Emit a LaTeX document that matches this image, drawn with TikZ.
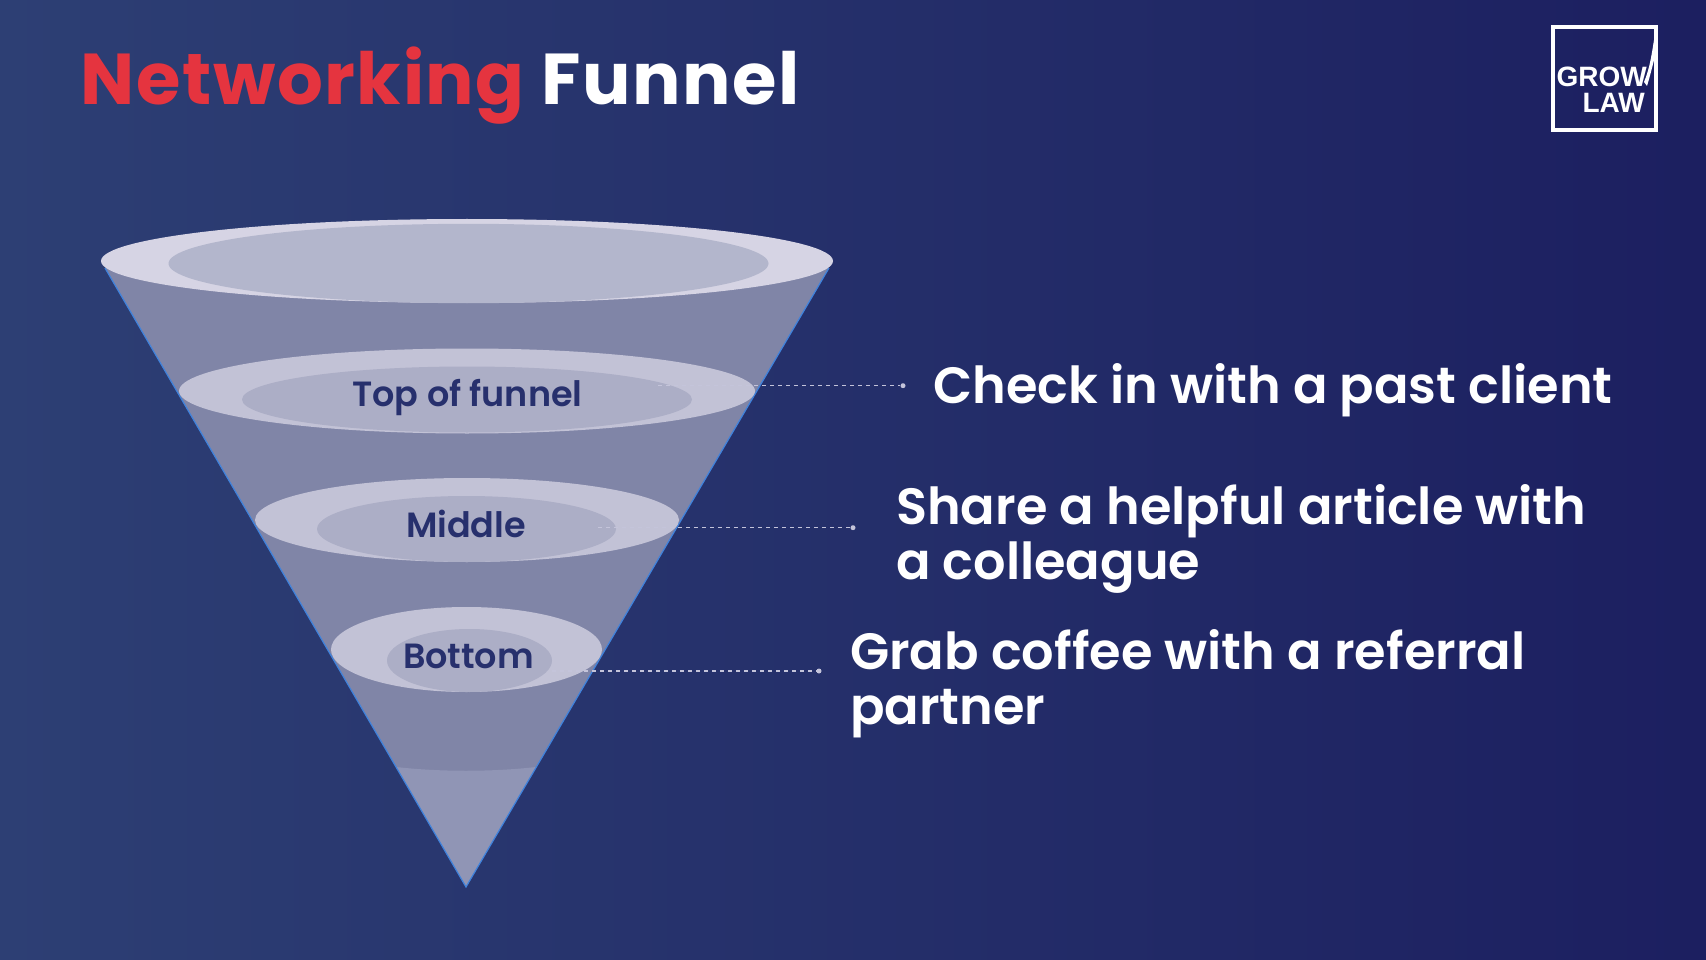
\documentclass[tikz,border=0pt]{standalone}
\usepackage{fontspec}
\setmainfont{Poppins}[BoldFont={Poppins SemiBold}]
\newfontfamily\titlefont{Poppins}[UprightFont={* Bold},LetterSpace=2.2]
\newfontfamily\logofont{Liberation Sans}
\usetikzlibrary{positioning}
\definecolor{bgleft}{HTML}{2D3F74}
\definecolor{bgright}{HTML}{1C1F60}
\definecolor{titlered}{HTML}{E5343F}
\definecolor{labelblue}{HTML}{27306D}
\definecolor{funnelbody}{HTML}{8085A7}
\definecolor{funneltip}{HTML}{9095B5}
\definecolor{funneledge}{HTML}{3F82DC}
\definecolor{rimtop}{HTML}{D6D4E4}
\definecolor{rim}{HTML}{C2C2D6}
\definecolor{holetop}{HTML}{B3B6CC}
\definecolor{hole}{HTML}{ACAEC6}
\definecolor{dashgrey}{HTML}{C4C4DA}
\begin{document}
\begin{tikzpicture}[x=1pt,y=-1pt,
    funnellabel/.style={text=labelblue,font=\bfseries\fontsize{35}{40}\selectfont,inner sep=0pt},
    sidetext/.style={text=white,font=\bfseries\fontsize{51}{55}\selectfont,align=left,anchor=base west,inner sep=0pt},
    logotext/.style={anchor=base east,inner sep=0pt,text=white,font=\logofont\bfseries\fontsize{28}{28}\selectfont},
    leader/.style={dashgrey,line width=1.2pt,dash pattern=on 4pt off 4pt},
    leaderdot/.style={circle,fill=dashgrey,inner sep=0pt,minimum size=5pt}]
  \useasboundingbox (0,0) rectangle (1706,960);
  \fill[left color=bgleft,right color=bgright] (0,0) rectangle (1706,960);
  % funnel
  \fill[funnelbody] (105,268) -- (829,268) -- (466,887) -- cycle;
  \fill[funneltip] (396,767) .. controls (440,772) and (492,772) .. (536,767) -- (466,887) -- cycle;
  \draw[funneledge,line width=1.2pt] (105,268) -- (466,887) -- (829,268);
  % rims and holes
  \fill[rimtop] (467,261) ellipse [x radius=366,y radius=42];
  \fill[holetop] (468.5,263.5) ellipse [x radius=300,y radius=39.7];
  \fill[rim] (467,391) ellipse [x radius=288,y radius=42.5];
  \fill[hole] (467,399.5) ellipse [x radius=225,y radius=33];
  \fill[rim] (467,520) ellipse [x radius=212,y radius=42];
  \fill[hole] (466.5,529) ellipse [x radius=149.5,y radius=33];
  \fill[rim] (466.5,649.5) ellipse [x radius=135.5,y radius=42.5];
  \fill[hole] (469.5,660.5) ellipse [x radius=82.5,y radius=31.5];
  % labels
  \node[funnellabel] (top) at (467.5,397) {Top of funnel};
  \node[funnellabel] (middle) at (466,524) {Middle};
  \node[funnellabel] (bottom) at (468.5,656.5) {Bottom};
  % leaders
  \coordinate (topstart) at (658,385.7);
  \coordinate (middlestart) at (598,527.7);
  \coordinate (bottomstart) at (552,671);
  \node[leaderdot] (topdot) at (903,385.7) {};
  \node[leaderdot] (middledot) at (853,527.7) {};
  \node[leaderdot] (bottomdot) at (819,671) {};
  \draw[leader] (topstart) -- (topdot);
  \draw[leader] (middlestart) -- (middledot);
  \draw[leader] (bottomstart) -- (bottomdot);
  % right hand text
  \node[sidetext] (check) at (933,403) {Check in with a past client};
  \node[sidetext] (share) at (896,579) {Share a helpful article with\\a colleague};
  \node[sidetext] (grab) at (850,724) {Grab coffee with a referral\\partner};
  % title
  \node[anchor=base west,inner sep=0pt,text=white,font=\titlefont\fontsize{72}{80}\selectfont] (title) at (80.5,104.5)
    {\textcolor{titlered}{Networking} Funnel};
  % logo
  \node[draw=white,line width=4.4pt,minimum size=103pt,inner sep=0pt] (logo) at (1604.5,78.5) {};
  \node[logotext] (grow) at (1647,87) {GROW};
  \node[logotext] (law) at (1645,113) {LAW};
  \fill[white] (1644,82) .. controls (1650,68) and (1652,52) .. (1654,40) -- (1654,60) .. controls (1652,68) and (1650,76) .. (1647,86) -- cycle;
\end{tikzpicture}
\end{document}
